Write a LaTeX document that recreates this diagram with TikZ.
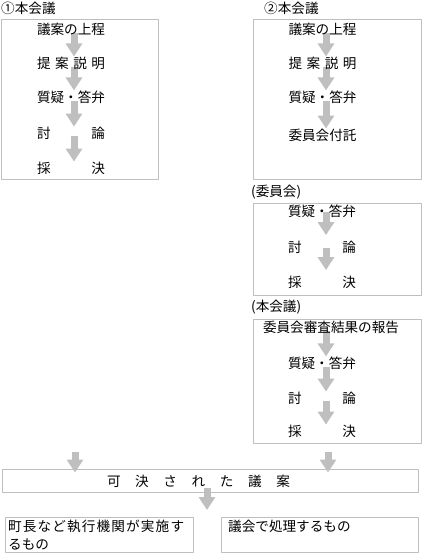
\documentclass[tikz,border=0pt]{standalone}
\usepackage{fontspec}
\setmainfont{Noto Sans CJK JP}
\usetikzlibrary{arrows.meta,backgrounds}
\definecolor{lgray}{RGB}{191,191,191}
\newcommand{\spreadtxt}[2]{\makebox[#1][s]{#2}}

\begin{document}
\begin{tikzpicture}[x=1pt,y=-1pt, font=\fontsize{13.6}{18}\selectfont, line join=round,
	every node/.style={inner sep=0pt},
	panel/.style={draw=lgray, line width=1pt},
	garrow/.style={draw=lgray, line width=7pt, -{Triangle[width=16pt,length=13pt]}, shorten <=-3pt}]
	\useasboundingbox (0,0) rectangle (422,555);
	%①本会議
	\node[anchor=west] (h1) at (1,8) {①本会議};
	\node[panel, minimum width=156.5pt, minimum height=160pt] (b1) at (79.75,99) {};
	\node (p11) at (71,29) {議案の上程};
	\node (p12) at (71,63) {\spreadtxt{5em}{提\hfill 案\hfill 説\hfill 明}};
	\node (p13) at (71,97) {質疑・答弁};
	\node (p14) at (71,133) {\spreadtxt{5em}{討\hfill 論}};
	\node (p15) at (71,168) {\spreadtxt{5em}{採\hfill 決}};
	%②本会議
	\node[anchor=west] (h2) at (264,8) {②本会議};
	\node[panel, minimum width=168pt, minimum height=160pt] (b2) at (337,99) {};
	\node (p21) at (322.5,29) {議案の上程};
	\node (p22) at (322.5,63) {\spreadtxt{5em}{提\hfill 案\hfill 説\hfill 明}};
	\node (p23) at (322.5,97) {質疑・答弁};
	\node (p24) at (322.5,135) {委員会付託};
	%(委員会)
	\node[anchor=west] (h3) at (251,192) {(委員会)};
	\node[panel, minimum width=168pt, minimum height=92pt] (b3) at (337,249) {};
	\node (p31) at (322,211.5) {質疑・答弁};
	\node (p32) at (322,247.5) {\spreadtxt{5em}{討\hfill 論}};
	\node (p33) at (322,282.5) {\spreadtxt{5em}{採\hfill 決}};
	%(本会議)
	\node[anchor=west] (h4) at (251,307) {(本会議)};
	\node[panel, minimum width=168pt, minimum height=124pt] (b4) at (337,381) {};
	\node (p41) at (331,327) {委員会審査結果の報告};
	\node (p42) at (322,363) {質疑・答弁};
	\node (p43) at (322,398) {\spreadtxt{5em}{討\hfill 論}};
	\node (p44) at (322,431) {\spreadtxt{5em}{採\hfill 決}};
	%可決された議案
	\node[panel, minimum width=416pt, minimum height=23pt] (b5) at (210,480.5) {};
	\node (p5) at (198.5,481) {\spreadtxt{183pt}{可\hfill 決\hfill さ\hfill れ\hfill た\hfill 議\hfill 案}};
	\coordinate (c1) at (75,452);
	\coordinate (c2) at (328,452);
	\coordinate (c3) at (207,510);
	%振り分け
	\node[panel, minimum width=188pt, minimum height=35pt] (b6) at (99,534.5) {};
	\node[panel, minimum width=197pt, minimum height=35pt] (b7) at (319.5,534.5) {};
	\node[anchor=north west, align=left] (p6) at (8,519.5) {\addfontfeature{LetterSpace=8.5}町長など執行機関が実施す\\ るもの};
	\node[anchor=north west] (p7) at (228,520) {議会で処理するもの};
	%矢印
	\begin{scope}[on background layer]
		\foreach \a/\b in {p11/p12,p12/p13,p13/p14,p14/p15}
			\draw[garrow] ([xshift=3pt]\a.south) -- ([xshift=3pt]\b.north);
		\foreach \a/\b in {p21/p22,p22/p23,p23/p24}
			\draw[garrow] ([xshift=3.5pt]\a.south) -- ([xshift=3.5pt]\b.north);
		\foreach \a/\b in {p31/p32,p32/p33}
			\draw[garrow, shorten <=-6pt, shorten >=6pt] ([xshift=4pt]\a.south) -- ([xshift=4pt]\b.north);
		\draw[garrow] ([xshift=-5pt]p41.south) -- ([xshift=4pt]p42.north);
		\foreach \a/\b in {p42/p43,p43/p44}
			\draw[garrow] ([xshift=4pt]\a.south) -- ([xshift=4pt]\b.north);
		\draw[garrow, shorten <=0pt, shorten >=-4pt] (c1) -- (c1 |- b5.north);
		\draw[garrow, shorten <=0pt, shorten >=-4pt] (c2) -- (c2 |- b5.north);
		\draw[garrow, shorten <=-5pt] (c3 |- b5.south) -- (c3);
	\end{scope}
\end{tikzpicture}
\end{document}
